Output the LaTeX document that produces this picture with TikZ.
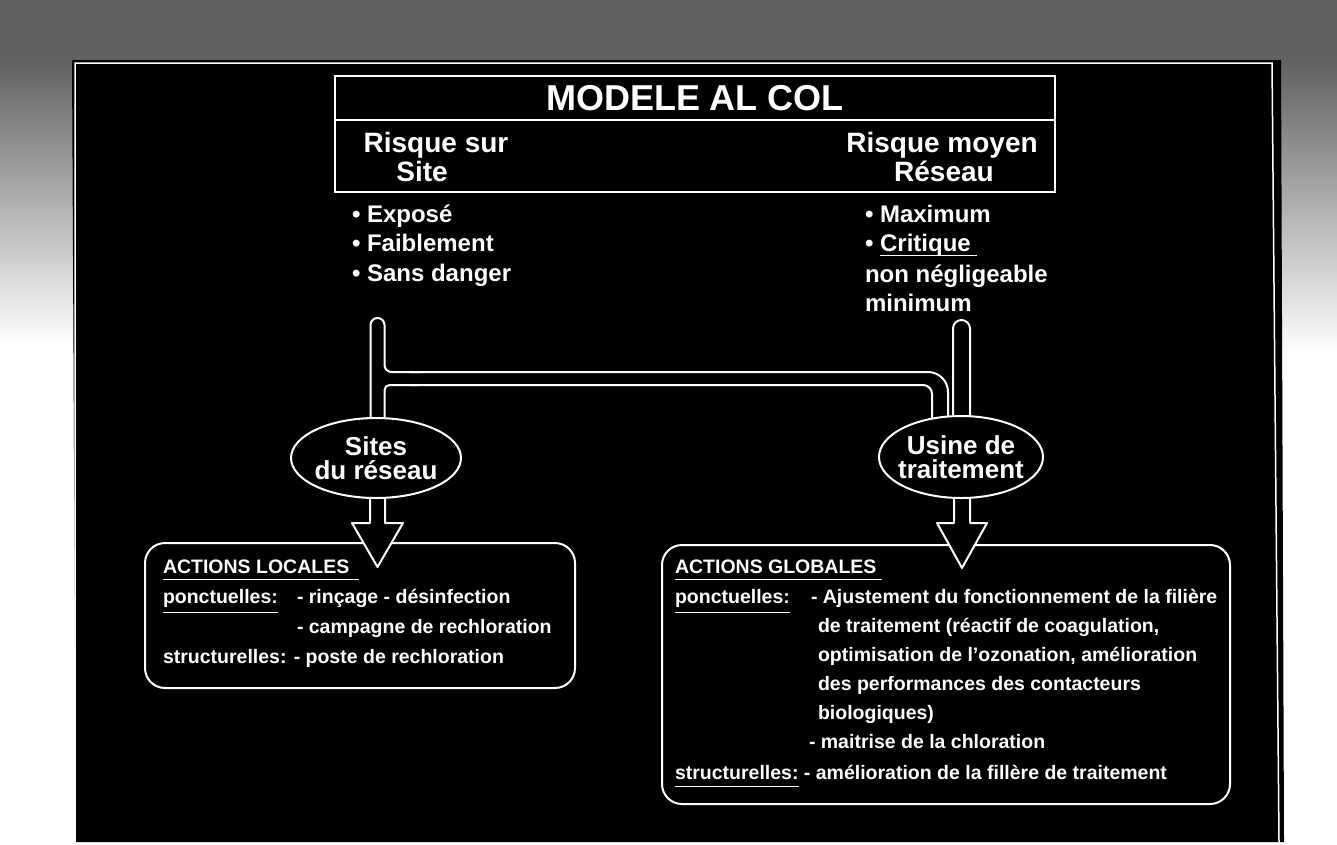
\documentclass[tikz,border=0pt]{standalone}
\usepackage{fontspec}
\setmainfont{Liberation Sans}
\usetikzlibrary{shapes.geometric}
\begin{document}
\begin{tikzpicture}[x=1pt,y=-1pt,
  wtxt/.style={text=white, inner sep=0pt, outer sep=0pt, anchor=base west},
  titlef/.style={wtxt, anchor=base, font=\bfseries\fontsize{36}{40}\selectfont},
  headf/.style={wtxt, anchor=base, font=\bfseries\fontsize{28}{32}\selectfont},
  bulf/.style={wtxt, font=\bfseries\fontsize{24}{28}\selectfont},
  elltxt/.style={text=white, inner sep=0pt, align=center, font=\bfseries\fontsize{26}{24}\selectfont},
  boxf/.style={wtxt, font=\bfseries\fontsize{19.5}{22}\selectfont},
  wline/.style={draw=white, line width=2pt},
  tube/.style={draw=white, line width=2pt, line join=round},
  uline/.style={draw=white, line width=1pt},
  abox/.style={draw=white, line width=2pt, fill=black, rounded corners=20pt, inner sep=0pt},
  oval/.style={ellipse, draw=white, line width=2pt, fill=black, inner sep=0pt},
]
\useasboundingbox (0,0) rectangle (1337,844);
% scanned surround
\fill[white] (0,0) rectangle (1337,844);
\fill[black!62] (0,0) rectangle (1337,61);
\shade[top color=black!62, bottom color=white] (0,60) rectangle (74,345);
\shade[top color=black!62, bottom color=white] (1280,60) rectangle (1337,355);
% black panel
\fill[black] (72,60) -- (1281,60) -- (1284,842) -- (76,842) -- cycle;
\draw[white, line width=1.5pt] (75,842) -- (75,63) -- (1272,63) -- (1279,842);

% top box
\node[draw=white, line width=2pt, minimum width=720pt, minimum height=116pt, inner sep=0pt] (topbox) at (695,134) {};
\coordinate (divy) at (0,120);
\draw[wline] (topbox.west |- divy) -- (topbox.east |- divy);
\node[titlef] (title) at (695,110) {MODELE AL COL};
\node[headf] (rsur) at (436,152) {Risque sur};
\node[headf] (site) at (422,181) {Site};
\node[headf] (rmoy) at (942,152) {Risque moyen};
\node[headf] (reseau) at (944,181) {Réseau};

% bullet lists
\node[bulf] (b1) at (352,222) {• Exposé};
\node[bulf] (b2) at (352,251) {• Faiblement};
\node[bulf] (b3) at (352,281) {• Sans danger};
\node[bulf] (c1) at (865,222) {• Maximum};
\node[bulf] (c2) at (865,251) {•\hspace*{0.278em}};
\node[bulf] (crit) at (c2.base east) {Critique};
\draw[uline] ([yshift=-4pt]crit.base west) -- ([yshift=-4pt,xshift=6pt]crit.base east);
\node[bulf] (c3) at (865,282) {non négligeable};
\node[bulf] (c4) at (865,311) {minimum};

% tubes
\draw[tube, rounded corners=7pt] (370.5,430) -- (370.5,318) -- (384.5,318) -- (384.5,372) -- (420,372);
\draw[tube, rounded corners=20pt] (410,372) -- (948,372) -- (948,432);
\draw[tube, rounded corners=5pt] (384.5,430) -- (384.5,385) -- (420,385);
\draw[tube, rounded corners=9pt] (410,385) -- (932,385) -- (932,432);
\draw[tube, rounded corners=8.5pt] (953,432) -- (953,320) -- (970,320) -- (970,432);

% action boxes
\node[abox, minimum width=430pt, minimum height=145pt] (lbox) at (360,615.5) {};
\node[abox, minimum width=568pt, minimum height=259pt] (rbox) at (946,674.5) {};

% block arrows
\path[fill=black, tube] (370,480) -- (370,523) -- (352,523) -- (377.5,567) -- (403,523) -- (385,523) -- (385,480);
\path[fill=black, tube] (954,480) -- (954,523) -- (937,523) -- (962,568) -- (987,523) -- (970,523) -- (970,480);

% ellipses
\node[oval, minimum width=170pt, minimum height=80pt] (sites) at (376,458) {};
\node[elltxt] (sitestxt) at (sites.center) {Sites\\du réseau};
\node[oval, minimum width=164pt, minimum height=82pt] (usine) at (961,457) {};
\node[elltxt] (usinetxt) at (usine.center) {Usine de\\traitement};

% left box text
\node[boxf] (lh) at (163,573) {ACTIONS LOCALES};
\draw[uline] ([yshift=-6pt]lh.base west) -- ([yshift=-6pt,xshift=10pt]lh.base east);
\node[boxf] (lp) at (163,603) {ponctuelles:};
\draw[uline] ([yshift=-9pt]lp.base west) -- ([yshift=-9pt]lp.base east);
\node[boxf] (l1) at (297,603) {- rinçage - désinfection};
\node[boxf] (l2) at (297,633) {- campagne de rechloration};
\node[boxf] (ls) at (163,663) {structurelles: - poste de rechloration};

% right box text
\node[boxf] (rh) at (675,573) {ACTIONS GLOBALES};
\draw[uline] ([yshift=-6pt]rh.base west) -- ([yshift=-6pt,xshift=5pt]rh.base east);
\node[boxf] (rp) at (675,603) {ponctuelles:};
\draw[uline] ([yshift=-9pt]rp.base west) -- ([yshift=-9pt]rp.base east);
\node[boxf] (r1) at (811,603) {- Ajustement du fonctionnement de la filière};
\node[boxf] (r2) at (818,632) {de traitement (réactif de coagulation,};
\node[boxf] (r3) at (818,661) {optimisation de l'ozonation, amélioration};
\node[boxf] (r4) at (818,690) {des performances des contacteurs};
\node[boxf] (r5) at (818,719) {biologiques)};
\node[boxf] (r6) at (809,748) {- maitrise de la chloration};
\node[boxf] (rs) at (675,779) {structurelles:};
\draw[uline] ([yshift=-7pt]rs.base west) -- ([yshift=-7pt]rs.base east);
\node[boxf] (rs2) at (rs.base east) {\ - amélioration de la fillère de traitement};
\end{tikzpicture}
\end{document}
